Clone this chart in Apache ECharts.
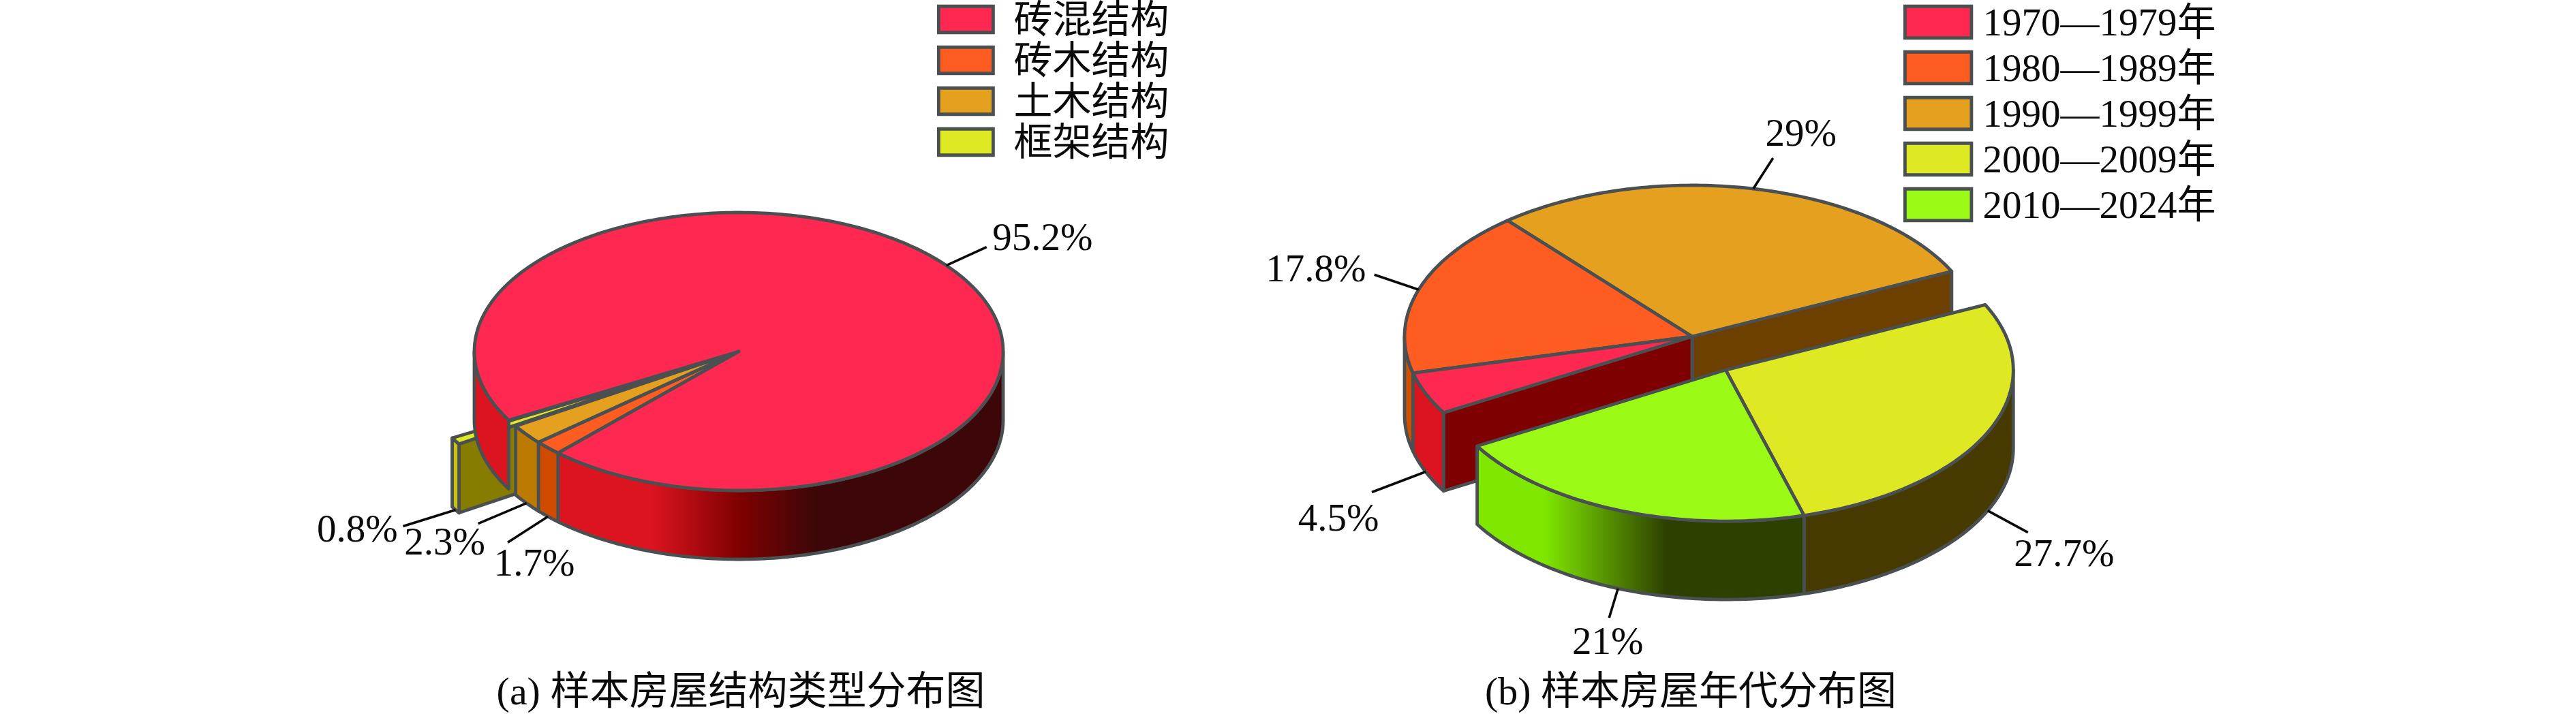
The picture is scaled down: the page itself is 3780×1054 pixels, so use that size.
<!DOCTYPE html>
<html>
<head>
<meta charset="utf-8">
<style>html,body{margin:0;padding:0;background:#fff}#c{width:3780px;height:1054px}</style>
<script src="https://cdn.jsdelivr.net/npm/echarts@6/dist/echarts.min.js"></script>
</head>
<body>
<div id="c"></div>
<script>
// ---- data ----
const structureNames = ['砖混结构', '砖木结构', '土木结构', '框架结构'];
const structureValues = [95.2, 1.7, 2.3, 0.8];
const ageNames = ['1970—1979年', '1980—1989年', '1990—1999年', '2000—2009年', '2010—2024年'];
const ageValues = [4.5, 17.8, 29, 27.7, 21];
const titleA = '(a) 样本房屋结构类型分布图';
const titleB = '(b) 样本房屋年代分布图';

// ---- layout and styles ----
const FONT = '"Liberation Serif","Noto Sans CJK SC",serif';
const EDGE = '#4A5052';
const pieA = {cx:1084, cy:516, rx:388, ry:204, depth:101, start:150.4, explodeSet:[3], explode:0.25};
const pieB = {cx:2483, cy:494, rx:422, ry:222, depth:115, start:149.8, explodeSet:[3,4], explode:0.25};
const topColors = ['#FF2850','#FF5C22','#E6A020','#DEE823','#9AFA16'];
const grad = (x1,x2,stops)=> new echarts.graphic.LinearGradient(x1,0,x2,0,stops.map(s=>({offset:s[0],color:s[1]})),true);
const stylesA = [
  {side:grad(955,1196,[[0,'#DC1420'],[0.55,'#7D0000'],[1,'#3D0709']])},
  {side:'#D04A00'},
  {side:'#BC7A00'},
  {side:'#C8BE14', face:'#857C00', faceEdge:0}
];
const stylesB = [
  {side:'#DC1420', face:'#7F0000', faceEdge:0},
  {side:'#D05000'},
  {side:'#6E4000', face:'#6E4000', faceEdge:1},
  {side:'#463A00'},
  {side:grad(2265,2445,[[0,'#80E800'],[1,'#2E4000']])}
];
// leader end relative to the rim point, then label centre relative to the leader end
const labelsA = [[[59,-27],[82,-11]],[[-59,38],[39,34]],[[-71,30],[-49,30]],[[-77,24],[-67,8]]];
const labelsB = [[[-79,30],[-49,42]],[[-65,-22],[-86,-5]],[[29,-45],[41,-33]],[[59,32],[53,34]],[[-13,43],[-2,38]]];
const rad = d=>d*Math.PI/180;

function buildSeries(names, values, pie, styles, labels, paintOrder){
  const total = values.reduce((a,b)=>a+b,0);
  let a = pie.start;
  const spans = values.map(v=>{const s=a; a+=v/total*360; return [s,a];});
  const gS = spans[pie.explodeSet[0]][0], gE = spans[pie.explodeSet[pie.explodeSet.length-1]][1];
  const gM = rad((gS+gE)/2);
  const off = {x:pie.explode*pie.rx*Math.cos(gM), y:pie.explode*pie.ry*Math.sin(gM)};
  return paintOrder.map(i=>({
    type:'custom', name:names[i], coordinateSystem:'none', silent:true, animation:false,
    itemStyle:{color:topColors[i]},
    data:[[values[i]]],
    renderItem:(params,api)=>{
      const moved = pie.explodeSet.includes(i);
      const cx = pie.cx+(moved?off.x:0), cy = pie.cy+(moved?off.y:0);
      const pt = (t,d)=>[cx+pie.rx*Math.cos(rad(t)), cy+pie.ry*Math.sin(rad(t))+(d||0)];
      const arc = (s,e,d)=>{const o=[],n=Math.max(2,Math.ceil(Math.abs(e-s)));for(let k=0;k<=n;k++)o.push(pt(s+(e-s)*k/n,d));return o;};
      const [s,e] = spans[i], st = styles[i], kids = [];
      const stroke = {stroke:EDGE, lineWidth:4.8, lineJoin:'round'};
      const poly = (pts,fill)=>kids.push({type:'polygon',shape:{points:pts},style:Object.assign({fill},stroke)});
      if(st.face){
        const t = st.faceEdge ? e : s;
        poly([[cx,cy],pt(t),pt(t,pie.depth),[cx,cy+pie.depth]], st.face);
      }
      for(let k=-1;k<3;k++){
        const lo=Math.max(s,k*360), hi=Math.min(e,k*360+180);
        if(hi>lo) poly(arc(lo,hi).concat(arc(hi,lo,pie.depth)), st.side);
      }
      poly([[cx,cy]].concat(arc(s,e)), topColors[i]);
      const mid=(s+e)/2, front=Math.sin(rad(mid))>0;
      const p0=pt(mid,front?pie.depth:0);
      const [l1,l2]=labels[i];
      const p1=[p0[0]+l1[0],p0[1]+l1[1]];
      kids.push({type:'line',shape:{x1:p0[0],y1:p0[1],x2:p1[0],y2:p1[1]},style:{stroke:'#0A0A0A',lineWidth:3.6}});
      kids.push({type:'text',style:{text:api.value(0)+'%',x:p1[0]+l2[0],y:p1[1]+l2[1],align:'center',verticalAlign:'middle',textAlign:'center',textVerticalAlign:'middle',fontSize:57,fontFamily:FONT,fill:'#0A0A0A'}});
      return {type:'group',children:kids};
    }
  }));
}

const legendBase = (names,left,top,w,h,gap,pad)=>({
  data:names, orient:'vertical', left, top, padding:0, icon:'rect', itemWidth:w, itemHeight:h, itemGap:gap,
  itemStyle:{borderColor:EDGE,borderWidth:4.8}, selectedMode:false,
  formatter:'{t|{name}}',
  textStyle:{fontFamily:FONT,fontSize:57,color:'#0A0A0A',padding:[0,0,0,pad],
    rich:{t:{fontFamily:FONT,fontSize:57,color:'#0A0A0A',lineHeight:57,padding:[10,0,0,0]}}}
});

const option = {
  backgroundColor:'#fff', animation:false,
  title:[
    {text:titleA,left:1082,top:985,textAlign:'center',textStyle:{fontFamily:FONT,fontSize:58,fontWeight:'normal',color:'#0A0A0A'}},
    {text:titleB,left:2476,top:985,textAlign:'center',textStyle:{fontFamily:FONT,fontSize:58,fontWeight:'normal',color:'#0A0A0A'}}
  ],
  legend:[
    legendBase(structureNames,1375,-5,80,38.5,-7,25),
    legendBase(ageNames,2793,-1,97.5,46.5,0,11.5)
  ],
  series:[].concat(
    buildSeries(structureNames,structureValues,pieA,stylesA,labelsA,[3,0,1,2]),
    buildSeries(ageNames,ageValues,pieB,stylesB,labelsB,[2,1,0,3,4])
  )
};
const chart = echarts.init(document.getElementById('c'),null,{renderer:'canvas',width:3780,height:1054});
chart.setOption(option);
</script>
</body>
</html>
